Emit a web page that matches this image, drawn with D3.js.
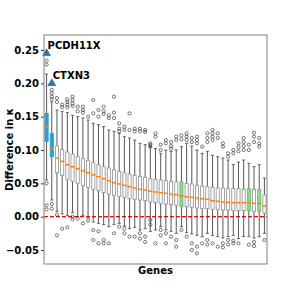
<!DOCTYPE html>
<html>
<head>
<meta charset="utf-8">
<script src="https://cdn.jsdelivr.net/npm/d3@7"></script>
<style>
  body { margin: 0; background: #fff; }
  text { font-family: "DejaVu Sans", sans-serif; font-weight: bold; }
</style>
</head>
<body>
<svg id="chart" width="297" height="297"></svg>
<script>
// one box per gene, ordered by median
const medians = [0.135, 0.1025, 0.088, 0.083, 0.078, 0.075, 0.072, 0.069, 0.066, 0.063,
  0.060, 0.057, 0.054, 0.051, 0.049, 0.047, 0.045, 0.043, 0.041, 0.040,
  0.038, 0.037, 0.036, 0.035, 0.034, 0.033, 0.031, 0.030, 0.029, 0.028,
  0.027, 0.026, 0.024, 0.023, 0.022, 0.0215, 0.021, 0.021, 0.021, 0.021,
  0.020, 0.020, 0.016];
const q1s = [0.113, 0.090, 0.066, 0.062, 0.056, 0.053, 0.050, 0.047, 0.044, 0.041,
  0.039, 0.036, 0.034, 0.032, 0.030, 0.029, 0.027, 0.026, 0.025, 0.024,
  0.022, 0.021, 0.020, 0.019, 0.018, 0.017, 0.015, 0.015, 0.014, 0.013,
  0.012, 0.012, 0.011, 0.011, 0.010, 0.010, 0.009, 0.009, 0.009, 0.009,
  0.008, 0.008, 0.005];
const q3s = [0.155, 0.125, 0.106, 0.101, 0.097, 0.094, 0.090, 0.087, 0.084, 0.081,
  0.078, 0.075, 0.073, 0.070, 0.068, 0.066, 0.064, 0.062, 0.060, 0.059,
  0.057, 0.056, 0.055, 0.054, 0.053, 0.052, 0.0525, 0.050, 0.049, 0.047,
  0.046, 0.045, 0.044, 0.043, 0.043, 0.042, 0.042, 0.042, 0.041, 0.042,
  0.041, 0.041, 0.0325];
const whiskerLow = [0.055, 0.025, 0.008, 0.004, 0.002, 0.006, 0.0, 0.002, -0.002, -0.008,
  -0.01, -0.012, -0.015, -0.012, -0.01, -0.014, -0.018, -0.016, -0.02, -0.018,
  -0.022, -0.02, -0.015, -0.02, -0.022, -0.025, -0.015, -0.024, -0.026, -0.028,
  -0.03, -0.025, -0.028, -0.03, -0.032, -0.03, -0.028, -0.033, -0.03, -0.03,
  -0.032, -0.03, -0.025];
const whiskerHigh = [0.214, 0.172, 0.160, 0.158, 0.156, 0.152, 0.150, 0.148, 0.145, 0.140,
  0.138, 0.135, 0.130, 0.128, 0.125, 0.120, 0.118, 0.115, 0.110, 0.108,
  0.105, 0.102, 0.095, 0.100, 0.098, 0.100, 0.105, 0.110, 0.106, 0.100,
  0.095, 0.098, 0.092, 0.090, 0.088, 0.085, 0.078, 0.082, 0.085, 0.080,
  0.075, 0.078, 0.058];
const outliers = [
  [0.228, 0.234, 0.05, 0.017, 0.011],
  [0.19, 0.185, 0.18, 0.176, 0.019, 0.012],
  [0.178, 0.172, 0.003, -0.028],
  [0.168, 0.164, -0.018],
  [0.176, 0.172, 0.168, 0.164, -0.016],
  [0.18, 0.175, 0.17, 0.166, 0.0, -0.004],
  [0.165, 0.158, -0.003],
  [0.165, 0.16, 0.156, -0.01],
  [0.15, -0.006],
  [0.175, 0.155, -0.02, -0.035],
  [0.16, 0.15, -0.022, -0.04],
  [0.165, 0.158, 0.154, -0.035, -0.04],
  [0.148, 0.152, -0.04],
  [0.18, 0.156, 0.148, -0.025],
  [0.14, 0.132, 0.128, -0.015],
  [0.135, 0.13, -0.018, -0.025],
  [0.155, 0.13, -0.03],
  [0.128, 0.132, -0.03],
  [0.132, 0.128, -0.025, -0.033],
  [0.13, 0.127, -0.03, -0.038],
  [0.11, 0.108, 0.105, -0.005, -0.012],
  [0.125, 0.12, -0.04],
  [0.108, 0.1, -0.02, -0.028],
  [0.115, 0.11, -0.025, -0.04],
  [0.112, 0.106, 0.102, -0.03],
  [0.12, 0.115, -0.035, -0.045],
  [0.122, 0.116, -0.02],
  [0.125, 0.12, 0.115, -0.03],
  [0.118, 0.112, -0.04, -0.05],
  [0.12, 0.115, 0.11, -0.045, -0.055],
  [0.105, -0.04],
  [0.125, 0.118, 0.112, -0.035, -0.042],
  [0.13, 0.125, 0.12, 0.115, -0.04],
  [0.125, 0.118, -0.045],
  [0.11, 0.105, -0.04, -0.046],
  [0.09, 0.095, -0.035, -0.042],
  [0.095, 0.1, -0.036, -0.04],
  [0.098, 0.104, 0.11, -0.04],
  [0.1, 0.106, 0.112, 0.118],
  [0.1, 0.108, -0.042],
  [0.112, 0.12, 0.126, -0.038, -0.044],
  [0.105, 0.11, 0.118],
  [-0.035]
];
const blueBoxes = [0, 1];
const greenBoxes = [26, 39, 41];
const highlightNames = ['PCDH11X', 'CTXN3'];
const highlightBoxes = [0, 1];
const highlightValues = [0.245, 0.2];
const yTicks = [-0.05, 0.00, 0.05, 0.10, 0.15, 0.20, 0.25];

const svg = d3.select('#chart');
const margin = { top: 35, right: 30, bottom: 33, left: 44 };
const width = 297 - margin.left - margin.right;
const height = 297 - margin.top - margin.bottom;
const g = svg.append('g').attr('transform', `translate(${margin.left},${margin.top})`);

const idx = d3.range(medians.length);
const x = d3.scaleBand().domain(idx).range([0, width]).paddingInner(0).paddingOuter(0);
const y = d3.scaleLinear().domain([-0.071, 0.2725]).range([height, 0]);
const cx = i => x(i) + x.bandwidth() / 2;
const bw = x.bandwidth() * 0.6;

// y axis
const yAxis = g.append('g')
  .call(d3.axisLeft(y).tickValues(yTicks).tickSize(3).tickPadding(2)
    .tickFormat(d => d3.format('.2f')(d).replace('-', '\u2212')));
yAxis.select('.domain').remove();
yAxis.selectAll('line').attr('stroke', '#333');
yAxis.selectAll('text').style('font-size', '10px').attr('fill', '#000');

// zero line
g.append('line')
  .attr('x1', 0).attr('x2', width)
  .attr('y1', y(0)).attr('y2', y(0))
  .attr('stroke', '#f00').attr('stroke-width', 1.3).attr('stroke-dasharray', '4,2');

// whiskers
g.selectAll('.whisker').data(idx).enter().append('line')
  .attr('x1', cx).attr('x2', cx)
  .attr('y1', i => y(whiskerLow[i])).attr('y2', i => y(whiskerHigh[i]))
  .attr('stroke', '#444').attr('stroke-width', 0.9);

// caps
['lo', 'hi'].forEach(k => {
  g.selectAll('.cap-' + k).data(idx).enter().append('line')
    .attr('x1', i => cx(i) - bw / 2).attr('x2', i => cx(i) + bw / 2)
    .attr('y1', i => y(k === 'lo' ? whiskerLow[i] : whiskerHigh[i]))
    .attr('y2', i => y(k === 'lo' ? whiskerLow[i] : whiskerHigh[i]))
    .attr('stroke', '#444').attr('stroke-width', 0.8);
});

// boxes
g.selectAll('.box').data(idx).enter().append('rect')
  .attr('x', i => cx(i) - bw / 2)
  .attr('width', bw)
  .attr('y', i => y(q3s[i]))
  .attr('height', i => y(q1s[i]) - y(q3s[i]))
  .attr('fill', i => blueBoxes.includes(i) ? '#24a0dc' : greenBoxes.includes(i) ? '#8fd68f' : '#fff')
  .attr('stroke', i => blueBoxes.includes(i) ? '#24a0dc' : greenBoxes.includes(i) ? '#6cc46c' : '#9a9a9a')
  .attr('stroke-width', 0.9);

// medians
g.selectAll('.median').data(idx).enter().append('line')
  .attr('x1', i => cx(i) - x.bandwidth() * 0.42).attr('x2', i => cx(i) + x.bandwidth() * 0.42)
  .attr('y1', i => y(medians[i])).attr('y2', i => y(medians[i]))
  .attr('stroke', '#ff7f0e').attr('stroke-width', 1.5);

// outliers
const pts = [];
outliers.forEach((arr, i) => arr.forEach(v => pts.push({ i, v })));
g.selectAll('.flier').data(pts).enter().append('circle')
  .attr('cx', d => cx(d.i)).attr('cy', d => y(d.v)).attr('r', 1.6)
  .attr('fill', 'none').attr('stroke', '#222').attr('stroke-width', 0.6);

// highlighted genes
const tri = d3.symbol().type(d3.symbolTriangle).size(28);
highlightBoxes.forEach((b, k) => {
  g.append('path').attr('d', tri)
    .attr('transform', `translate(${cx(b)},${y(highlightValues[k])})`)
    .attr('fill', '#2a78b4').attr('stroke', '#1b5f94').attr('stroke-width', 0.5);
  g.append('text')
    .attr('x', cx(b) + 1).attr('y', y(highlightValues[k]) - 4)
    .style('font-size', '10px')
    .text(highlightNames[k]);
});

// frame
g.append('rect').attr('width', width).attr('height', height)
  .attr('fill', 'none').attr('stroke', '#808080').attr('stroke-width', 1);

// labels
svg.append('text')
  .attr('transform', `translate(9,${margin.top + height / 2}) rotate(-90)`)
  .attr('text-anchor', 'middle').attr('dy', '0.35em')
  .style('font-size', '10px').text('Difference in \u03ba');
svg.append('text')
  .attr('x', margin.left + width / 2).attr('y', 274)
  .attr('text-anchor', 'middle').style('font-size', '10px').text('Genes');
</script>
</body>
</html>
